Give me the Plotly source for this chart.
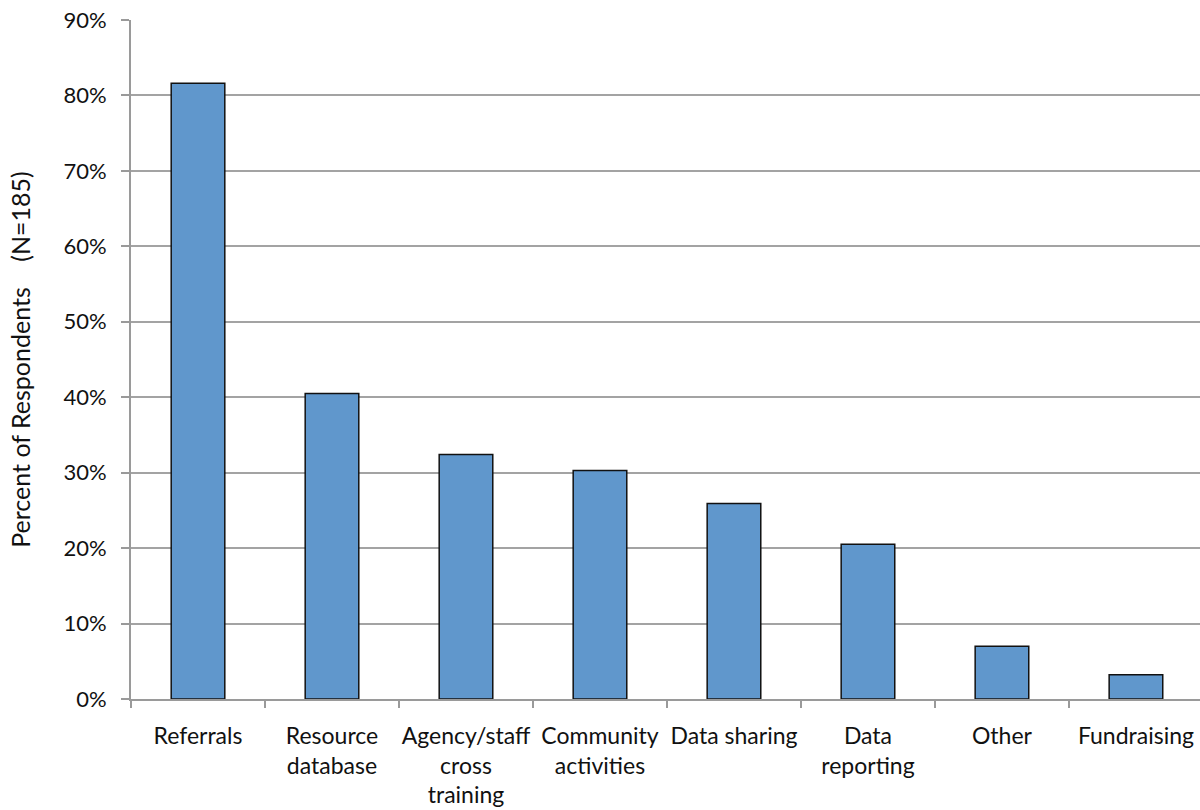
import plotly.graph_objects as go

categories = ["Referrals", "Resource<br>database", "Agency/staff<br>cross<br>training",
              "Community<br>activities", "Data sharing", "Data<br>reporting", "Other", "Fundraising"]
values = [81.6, 40.5, 32.4, 30.3, 25.9, 20.5, 7.0, 3.2]
y_ticks = [0, 10, 20, 30, 40, 50, 60, 70, 80, 90]
y_ticklabels = [f"{v}%" for v in y_ticks]

FONT = "Lato"
fig = go.Figure(go.Bar(
    x=list(range(len(categories))), y=values,
    width=0.40,
    marker=dict(color="#6097CC", line=dict(color="#111111", width=1.5)),
))

fig.update_layout(
    width=1200, height=810,
    margin=dict(l=131, r=0, t=20, b=111),
    paper_bgcolor="white", plot_bgcolor="white",
    font=dict(family=FONT, size=22, color="#111111"),
    showlegend=False,
)
fig.update_xaxes(
    range=[-0.5, 7.478], automargin=False,
    tickmode="array", tickvals=list(range(len(categories))), ticktext=categories,
    showgrid=False, showline=True, linecolor="#9a9a9a", linewidth=2,
    ticks="", zeroline=False, tickfont=dict(size=23),
    ticklabelstandoff=15,
)
# boundary ticks drawn as a second overlay axis
fig.update_layout(xaxis2=dict(
    overlaying="x", side="bottom", range=[-0.5, 7.478], automargin=False,
    tickmode="array", tickvals=[i - 0.5 for i in range(len(categories) + 1)],
    ticktext=[""] * (len(categories) + 1),
    ticks="outside", ticklen=8, tickwidth=2, tickcolor="#9a9a9a",
    showgrid=False, showline=False, zeroline=False,
))
fig.add_trace(go.Scatter(x=[0], y=[0], xaxis="x2", mode="markers",
                         marker=dict(opacity=0), hoverinfo="skip", showlegend=False))
fig.update_yaxes(
    range=[0, 90], automargin=False,
    tickmode="array", tickvals=y_ticks, ticktext=y_ticklabels,
    showgrid=True, gridcolor="#a3a3a3", gridwidth=2,
    showline=True, linecolor="#9a9a9a", linewidth=2,
    ticks="outside", ticklen=8, tickwidth=2, tickcolor="#9a9a9a",
    ticklabelstandoff=10, tickfont=dict(size=22),
    zeroline=False,
    title=dict(text="Percent of Respondents \u00a0\u00a0\u00a0(N=185)", font=dict(size=25), standoff=26),
)

fig.write_html("out.html", config={"displayModeBar": False},
               post_script="document.body.style.margin='0';document.body.style.overflow='hidden';")
